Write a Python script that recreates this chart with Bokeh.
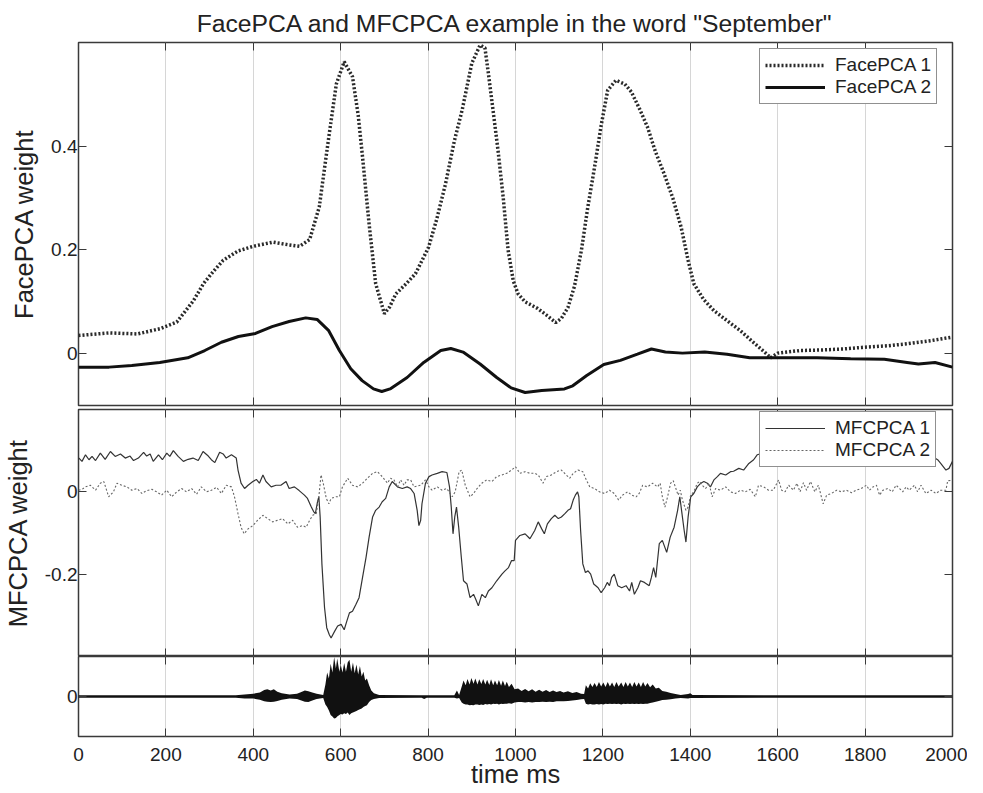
from bokeh.plotting import figure
from bokeh.models import (Range1d, LinearAxis, FixedTicker, CustomJSTickFormatter,
                          Legend, LegendItem)
from bokeh.layouts import column
from bokeh.embed import file_html
from bokeh.resources import INLINE

FONT = "Liberation Sans"
TXT = "#222222"
EDGE = "#3a3a3a"

TITLE = 'FacePCA and MFCPCA example in the word "September"'
X_TICKS = [0, 200, 400, 600, 800, 1000, 1200, 1400, 1600, 1800, 2000]
FACE_TICKS = [0, 0.2, 0.4]
MFC_TICKS = [-0.2, 0]
WAVE_TICKS = [0]

# ---- FacePCA weights ----
face1_t = [0, 70, 135, 186, 225, 263, 286, 310, 331, 365, 400, 445, 480, 506, 529, 551,
           565, 574, 590, 608, 627, 640, 650, 665, 680, 700, 712, 726, 750, 771, 801, 820, 840,
           860, 878, 900, 919, 930, 938, 950, 960, 972, 983, 995, 1006, 1022, 1051, 1070, 1092,
           1105, 1120, 1135, 1151, 1165, 1181, 1196, 1211, 1230, 1250, 1265, 1285, 1302, 1320,
           1340, 1360, 1379, 1395, 1408, 1430, 1454, 1485, 1515, 1540, 1574, 1584, 1600, 1651,
           1700, 1750, 1793, 1850, 1896, 1950, 2000]
face1_v = [0.035, 0.040, 0.038, 0.048, 0.061, 0.102, 0.135, 0.160, 0.180, 0.198,
           0.207, 0.215, 0.210, 0.207, 0.220, 0.283, 0.370, 0.425, 0.520, 0.563, 0.534, 0.460,
           0.379, 0.250, 0.135, 0.077, 0.090, 0.115, 0.135, 0.154, 0.205, 0.260, 0.328, 0.410,
           0.470, 0.560, 0.595, 0.590, 0.540, 0.460, 0.392, 0.300, 0.200, 0.140, 0.115, 0.100,
           0.087, 0.075, 0.060, 0.068, 0.089, 0.130, 0.200, 0.280, 0.360, 0.440, 0.508, 0.527,
           0.520, 0.505, 0.470, 0.437, 0.390, 0.347, 0.300, 0.244, 0.180, 0.135, 0.105, 0.083,
           0.063, 0.044, 0.025, 0.000, -0.008, 0.001, 0.006, 0.007, 0.009, 0.012, 0.015, 0.019,
           0.025, 0.032]

face2_t = [0, 70, 122, 186, 250, 289, 327, 366, 405, 443, 482, 520, 546, 572, 597, 623, 649,
           675, 694, 713, 752, 790, 829, 852, 880, 919, 957, 990, 1022, 1060, 1112, 1131, 1163,
           1202, 1240, 1279, 1311, 1343, 1382, 1433, 1484, 1536, 1613, 1690, 1767, 1844, 1896,
           1922, 1960, 2000]
face2_v = [-0.026, -0.026, -0.023, -0.017, -0.008, 0.006, 0.022, 0.033, 0.039, 0.052, 0.062,
           0.069, 0.066, 0.045, 0.006, -0.029, -0.052, -0.068, -0.073, -0.068, -0.046, -0.017,
           0.006, 0.010, 0.003, -0.020, -0.046, -0.066, -0.075, -0.071, -0.068, -0.062, -0.042,
           -0.021, -0.013, -0.001, 0.009, 0.003, 0.001, 0.003, -0.001, -0.008, -0.008, -0.008,
           -0.010, -0.011, -0.017, -0.020, -0.017, -0.026]

# ---- MFCPCA weights ----
mfc1_t = [0, 1, 8, 16, 24, 31, 39, 50, 61, 73, 84, 96, 107, 118, 126, 137, 149, 156, 164, 171,
          183, 192, 202, 209, 217, 228, 240, 251, 262, 274, 285, 297, 304, 312, 323, 331, 338,
          350, 361, 365, 372, 380, 388, 399, 407, 414, 422, 429, 441, 452, 463, 475, 482, 494,
          505, 517, 524, 532, 538, 542, 547, 550, 553, 557, 563, 568, 574, 578, 586, 593, 601,
          608, 614, 620, 627, 635, 642, 650, 658, 665, 673, 680, 688, 695, 703, 711, 718, 730,
          741, 752, 760, 768, 775, 779, 783, 786, 794, 802, 809, 821, 832, 843, 849, 853, 857,
          861, 865, 870, 876, 881, 889, 896, 904, 909, 915, 923, 931, 938, 946, 957, 969, 976,
          984, 991, 997, 1000, 1010, 1022, 1033, 1044, 1052, 1060, 1066, 1073, 1082, 1090, 1098,
          1105, 1113, 1120, 1126, 1132, 1137, 1142, 1145, 1149, 1154, 1160, 1166, 1172, 1179,
          1189, 1196, 1204, 1210, 1215, 1220, 1226, 1234, 1243, 1253, 1261, 1266, 1272, 1280,
          1286, 1295, 1306, 1311, 1316, 1321, 1329, 1336, 1346, 1354, 1363, 1371, 1376, 1380,
          1386, 1390, 1395, 1401, 1408, 1416, 1424, 1431, 1439, 1446, 1454, 1462, 1469, 1481,
          1492, 1499, 1511, 1522, 1534, 1545, 1553, 1570, 1600, 1640, 1680, 1720, 1760, 1800,
          1840, 1880, 1920, 1945, 1954, 1966, 1973, 1985, 1992, 2000]
mfc1_v = [0.080, 0.082, 0.074, 0.090, 0.078, 0.086, 0.076, 0.094, 0.079, 0.098, 0.086, 0.092,
          0.082, 0.087, 0.076, 0.082, 0.096, 0.087, 0.092, 0.074, 0.090, 0.078, 0.094, 0.086,
          0.100, 0.086, 0.074, 0.079, 0.082, 0.076, 0.098, 0.087, 0.078, 0.071, 0.096, 0.092,
          0.082, 0.090, 0.082, 0.053, 0.021, 0.008, 0.016, 0.025, 0.030, 0.021, 0.041, 0.025,
          0.012, 0.016, 0.016, 0.025, 0.008, 0.012, 0.003, -0.008, -0.016, -0.035, -0.048,
          -0.053, -0.024, -0.012, -0.061, -0.175, -0.281, -0.330, -0.347, -0.355, -0.339,
          -0.326, -0.322, -0.335, -0.314, -0.294, -0.290, -0.273, -0.257, -0.208, -0.159,
          -0.110, -0.061, -0.045, -0.037, -0.024, -0.016, 0.012, 0.025, 0.012, 0.008, 0.012,
          0.008, -0.004, -0.045, -0.082, -0.069, -0.029, 0.021, 0.037, 0.041, 0.045, 0.049,
          0.047, 0.012, -0.037, -0.102, -0.061, -0.037, -0.086, -0.159, -0.216, -0.224, -0.257,
          -0.249, -0.261, -0.277, -0.249, -0.257, -0.241, -0.233, -0.216, -0.200, -0.192,
          -0.184, -0.167, -0.167, -0.118, -0.106, -0.102, -0.114, -0.094, -0.073, -0.090,
          -0.102, -0.078, -0.065, -0.057, -0.065, -0.061, -0.053, -0.045, -0.041, -0.020,
          -0.008, 0.000, -0.012, -0.094, -0.175, -0.196, -0.192, -0.200, -0.224, -0.233, -0.245,
          -0.233, -0.220, -0.228, -0.208, -0.200, -0.228, -0.233, -0.228, -0.241, -0.220,
          -0.249, -0.233, -0.216, -0.220, -0.228, -0.208, -0.184, -0.208, -0.126, -0.118,
          -0.147, -0.110, -0.086, -0.045, -0.012, -0.045, -0.094, -0.122, -0.061, -0.012,
          -0.004, 0.012, 0.021, 0.025, 0.021, 0.012, 0.029, 0.037, 0.045, 0.041, 0.049, 0.050,
          0.057, 0.053, 0.069, 0.078, 0.090, 0.095, 0.100, 0.095, 0.100, 0.092, 0.098, 0.095,
          0.100, 0.093, 0.097, 0.090, 0.086, 0.078, 0.069, 0.053, 0.057, 0.074]

mfc2_t = [0, 8, 16, 27, 39, 50, 58, 69, 80, 88, 99, 111, 122, 134, 145, 156, 168, 179, 190, 202,
          213, 225, 236, 247, 259, 270, 281, 293, 304, 316, 327, 338, 350, 357, 365, 372, 379,
          388, 399, 410, 422, 433, 444, 456, 467, 479, 490, 501, 513, 521, 529, 536, 544, 550,
          555, 560, 567, 573, 578, 589, 597, 604, 616, 627, 639, 650, 661, 673, 684, 695, 707,
          714, 722, 730, 737, 745, 752, 760, 768, 783, 794, 802, 809, 821, 832, 843, 855, 862,
          871, 877, 885, 896, 904, 912, 923, 934, 946, 957, 969, 980, 991, 1000, 1010, 1022,
          1033, 1044, 1052, 1063, 1071, 1082, 1094, 1105, 1116, 1124, 1132, 1143, 1154, 1162,
          1170, 1181, 1192, 1204, 1215, 1226, 1236, 1245, 1257, 1266, 1276, 1283, 1291, 1302,
          1314, 1325, 1331, 1336, 1342, 1348, 1355, 1361, 1367, 1372, 1377, 1382, 1390, 1395,
          1401, 1408, 1416, 1422, 1427, 1435, 1443, 1450, 1458, 1469, 1481, 1492, 1503, 1515,
          1526, 1537, 1549, 1556, 1568, 1579, 1590, 1602, 1609, 1617, 1625, 1636, 1644, 1651,
          1659, 1666, 1675, 1685, 1693, 1698, 1704, 1712, 1723, 1735, 1746, 1757, 1769, 1780,
          1791, 1803, 1810, 1818, 1826, 1833, 1841, 1852, 1862, 1871, 1879, 1886, 1894, 1901,
          1913, 1920, 1928, 1939, 1951, 1962, 1973, 1985, 1989, 2000]
mfc2_v = [0.004, 0.006, 0.012, 0.016, 0.004, 0.021, 0.025, -0.012, 0.000, 0.021, 0.016, 0.012,
          0.004, 0.008, -0.004, 0.003, 0.006, 0.000, -0.008, 0.004, -0.012, 0.000, 0.008, 0.000,
          0.008, -0.006, 0.012, 0.000, 0.004, 0.011, -0.004, 0.016, 0.012, -0.012, -0.053,
          -0.086, -0.102, -0.090, -0.082, -0.069, -0.057, -0.065, -0.073, -0.069, -0.065,
          -0.078, -0.069, -0.086, -0.082, -0.086, -0.069, -0.057, -0.053, -0.012, 0.041, 0.021,
          -0.016, -0.029, -0.016, -0.012, -0.012, 0.012, 0.033, 0.016, 0.012, 0.021, 0.033,
          0.045, 0.049, 0.037, 0.021, 0.033, 0.029, 0.012, 0.029, 0.016, 0.029, 0.029, 0.012,
          0.016, 0.029, 0.012, 0.004, 0.012, 0.004, 0.008, -0.012, 0.000, 0.049, 0.053, 0.016,
          -0.012, -0.004, 0.008, 0.021, 0.029, 0.025, 0.037, 0.041, 0.045, 0.053, 0.061, 0.045,
          0.049, 0.045, 0.045, 0.041, 0.021, 0.037, 0.041, 0.049, 0.053, 0.041, 0.033, 0.045,
          0.053, 0.049, 0.029, 0.012, 0.008, 0.000, -0.004, 0.004, -0.004, -0.020, -0.008,
          0.000, -0.008, -0.012, -0.004, 0.016, 0.012, 0.021, 0.012, 0.021, -0.012, -0.037,
          -0.012, 0.021, 0.027, 0.008, -0.008, 0.004, -0.020, -0.045, -0.037, -0.008, 0.000,
          0.021, 0.025, 0.016, 0.008, 0.021, -0.012, 0.008, 0.004, 0.012, 0.000, -0.004, 0.004,
          0.000, 0.006, -0.012, 0.016, 0.012, 0.004, 0.004, 0.029, 0.004, 0.000, 0.016, 0.004,
          0.021, 0.000, 0.022, 0.004, 0.025, 0.000, 0.016, -0.004, -0.029, -0.008, -0.004,
          0.004, 0.000, 0.004, -0.002, 0.004, 0.008, 0.016, 0.004, 0.012, 0.016, -0.008, 0.004,
          0.008, 0.000, 0.016, 0.008, 0.000, 0.012, 0.004, 0.016, 0.000, 0.016, -0.004, 0.004,
          -0.004, 0.004, 0.004, 0.027, 0.028]

# ---- audio waveform envelope (upper / lower) ----
wave_t = [0, 360, 380, 400, 415, 425, 432, 440, 447, 455, 465, 483, 500, 510, 518, 526, 535,
          545, 560, 565, 569, 573, 577, 581, 585, 589, 592, 597, 600, 604, 608, 612, 616, 620,
          624, 628, 632, 636, 640, 644, 648, 652, 656, 660, 665, 670, 676, 688, 785, 791, 797,
          860, 866, 871, 877, 881, 886, 890, 895, 899, 904, 908, 913, 917, 922, 926, 931, 935,
          940, 944, 949, 953, 958, 962, 967, 971, 976, 980, 985, 991, 998, 1006, 1014, 1022,
          1030, 1038, 1046, 1054, 1062, 1070, 1078, 1086, 1094, 1102, 1110, 1120, 1130, 1140,
          1150, 1157, 1161, 1166, 1171, 1176, 1181, 1186, 1191, 1196, 1201, 1206, 1211, 1216,
          1221, 1226, 1231, 1236, 1242, 1247, 1252, 1257, 1262, 1267, 1272, 1277, 1282, 1287,
          1292, 1297, 1302, 1308, 1314, 1321, 1328, 1336, 1345, 1355, 1366, 1378, 1395, 1400,
          1405, 2000]
wave_hi = [0.03, 0.03, 0.05, 0.07, 0.10, 0.16, 0.18, 0.15, 0.18, 0.12, 0.08, 0.05, 0.07, 0.11,
           0.15, 0.13, 0.10, 0.07, 0.04, 0.30, 0.60, 0.45, 0.82, 0.60, 0.99, 0.70, 0.95, 0.62,
           0.80, 0.60, 0.84, 0.62, 0.85, 0.92, 0.62, 0.85, 0.58, 0.80, 0.55, 0.76, 0.50, 0.62,
           0.40, 0.45, 0.28, 0.15, 0.08, 0.035, 0.03, 0.03, 0.03, 0.03, 0.15, 0.04, 0.25, 0.40,
           0.28, 0.44, 0.30, 0.46, 0.32, 0.45, 0.30, 0.43, 0.31, 0.44, 0.30, 0.42, 0.29, 0.43,
           0.28, 0.40, 0.28, 0.41, 0.27, 0.40, 0.26, 0.37, 0.24, 0.32, 0.18, 0.20, 0.14, 0.19,
           0.13, 0.18, 0.12, 0.17, 0.12, 0.16, 0.11, 0.15, 0.11, 0.14, 0.10, 0.13, 0.09, 0.11,
           0.07, 0.06, 0.28, 0.20, 0.33, 0.24, 0.34, 0.24, 0.36, 0.25, 0.35, 0.24, 0.36, 0.25,
           0.35, 0.24, 0.36, 0.25, 0.35, 0.24, 0.36, 0.25, 0.35, 0.24, 0.36, 0.25, 0.35, 0.24,
           0.36, 0.25, 0.34, 0.23, 0.30, 0.20, 0.22, 0.14, 0.12, 0.09, 0.06, 0.04, 0.06, 0.08,
           0.035, 0.03]
wave_lo = [-0.03, -0.03, -0.05, -0.05, -0.08, -0.12, -0.13, -0.14, -0.13, -0.11, -0.08, -0.05,
           -0.06, -0.10, -0.13, -0.14, -0.10, -0.06, -0.04, -0.20, -0.26, -0.35, -0.46, -0.50,
           -0.55, -0.54, -0.50, -0.46, -0.44, -0.45, -0.42, -0.44, -0.40, -0.46, -0.42, -0.40,
           -0.38, -0.36, -0.34, -0.32, -0.30, -0.26, -0.24, -0.22, -0.14, -0.09, -0.06, -0.035,
           -0.03, -0.06, -0.03, -0.03, -0.05, -0.04, -0.15, -0.18, -0.20, -0.20, -0.22, -0.21,
           -0.22, -0.20, -0.20, -0.21, -0.20, -0.21, -0.19, -0.20, -0.19, -0.20, -0.18, -0.19,
           -0.18, -0.20, -0.18, -0.19, -0.18, -0.18, -0.17, -0.18, -0.15, -0.14, -0.14, -0.15,
           -0.14, -0.15, -0.14, -0.14, -0.13, -0.14, -0.13, -0.14, -0.12, -0.12, -0.12, -0.11,
           -0.10, -0.09, -0.07, -0.06, -0.18, -0.20, -0.19, -0.20, -0.20, -0.19, -0.20, -0.19,
           -0.20, -0.18, -0.19, -0.18, -0.19, -0.18, -0.19, -0.18, -0.20, -0.18, -0.19, -0.18,
           -0.19, -0.18, -0.19, -0.18, -0.19, -0.18, -0.19, -0.18, -0.18, -0.16, -0.15, -0.13,
           -0.11, -0.09, -0.08, -0.07, -0.05, -0.04, -0.05, -0.04, -0.035, -0.03]

x_range = Range1d(0, 2000)
W = 967


def style_axis(ax, ticks, labels, standoff=1):
    ax.ticker = FixedTicker(ticks=ticks, minor_ticks=[])
    ax.formatter = CustomJSTickFormatter(code="return String(tick)")
    ax.major_tick_in = 8
    ax.major_tick_out = 0
    ax.major_tick_line_color = EDGE
    ax.major_tick_line_width = 1
    ax.minor_tick_line_color = None
    ax.axis_line_color = None
    ax.major_label_text_font = FONT
    ax.major_label_text_font_size = "19px"
    if labels:
        ax.major_label_text_color = TXT
        ax.major_label_standoff = standoff
    else:
        ax.major_label_text_color = None
        ax.major_label_standoff = 0


def label_axis(ax, text, standoff):
    ax.axis_label = text
    ax.axis_label_text_font = FONT
    ax.axis_label_text_font_size = "25.5px"
    ax.axis_label_text_font_style = "normal"
    ax.axis_label_text_color = TXT
    ax.axis_label_standoff = standoff


def make_panel(height, yr, yticks, btop, bbottom, xlabels=False):
    p = figure(width=W, height=height, x_range=x_range, y_range=Range1d(*yr),
               output_backend="svg", toolbar_location=None,
               x_axis_location=None, y_axis_location=None,
               min_border_left=73, min_border_right=15,
               min_border_top=btop, min_border_bottom=bbottom)
    p.background_fill_color = "white"
    p.border_fill_color = "white"
    p.outline_line_color = EDGE
    p.outline_line_width = 1.5
    ax_b = LinearAxis()
    ax_t = LinearAxis()
    ax_l = LinearAxis()
    ax_r = LinearAxis()
    style_axis(ax_b, X_TICKS, xlabels, standoff=11)
    style_axis(ax_t, X_TICKS, False)
    style_axis(ax_l, yticks, True, standoff=1)
    style_axis(ax_r, yticks, False)
    p.add_layout(ax_b, "below")
    p.add_layout(ax_t, "above")
    p.add_layout(ax_l, "left")
    p.add_layout(ax_r, "right")
    p.xgrid.ticker = FixedTicker(ticks=X_TICKS)
    p.xgrid.grid_line_color = "#d6d6d6"
    p.xgrid.grid_line_width = 1
    p.ygrid.visible = False
    return p, ax_b, ax_l


# ---- top panel ----
p1, b1, l1 = make_panel(407, (-0.1, 0.6), FACE_TICKS, 42, 2)
label_axis(l1, "FacePCA weight", 10)
p1.title.text = TITLE
p1.title.text_font = FONT
p1.title.text_font_size = "24.7px"
p1.title.text_font_style = "normal"
p1.title.text_color = TXT
p1.title.align = "center"
p1.title.standoff = 11
r11 = p1.line(face1_t, face1_v, line_color="#2a2a2a", line_width=3.5, line_dash="2 2")
r12 = p1.line(face2_t, face2_v, line_color="#111111", line_width=3)

# ---- middle panel ----
p2, b2, l2 = make_panel(249, (-0.4, 0.2), MFC_TICKS, 2, 0)
label_axis(l2, "MFCPCA weight", 10)
r21 = p2.line(mfc1_t, mfc1_v, line_color="#333333", line_width=1.2)
r22 = p2.line(mfc2_t, mfc2_v, line_color="#666666", line_width=1.1, line_dash="2 2")

# ---- bottom panel (speech waveform) ----
p3, b3, l3 = make_panel(134, (-1, 1), WAVE_TICKS, 0, 53, xlabels=True)
p3.varea(x=wave_t, y1=wave_lo, y2=wave_hi, fill_color="#111111")
label_axis(b3, "time ms", -4)


def add_legend(p, items, loc):
    leg = Legend(items=items, location=loc, orientation="vertical")
    leg.label_text_font = FONT
    leg.label_text_font_size = "19px"
    leg.label_text_color = TXT
    leg.glyph_width = 60
    leg.glyph_height = 20
    leg.label_height = 20
    leg.label_standoff = 10
    leg.padding = 5
    leg.spacing = 0
    leg.margin = 0
    leg.border_line_color = "#222222"
    leg.border_line_width = 1
    leg.background_fill_color = "white"
    leg.background_fill_alpha = 1
    p.add_layout(leg)


add_legend(p1, [LegendItem(label="FacePCA 1", renderers=[r11]),
                LegendItem(label="FacePCA 2", renderers=[r12])], (681, 301))
add_legend(p2, [LegendItem(label="MFCPCA 1", renderers=[r21]),
                LegendItem(label="MFCPCA 2", renderers=[r22])], (681, 189))

layout = column(p1, p2, p3)
open("out.html", "w").write(file_html(layout, INLINE))
